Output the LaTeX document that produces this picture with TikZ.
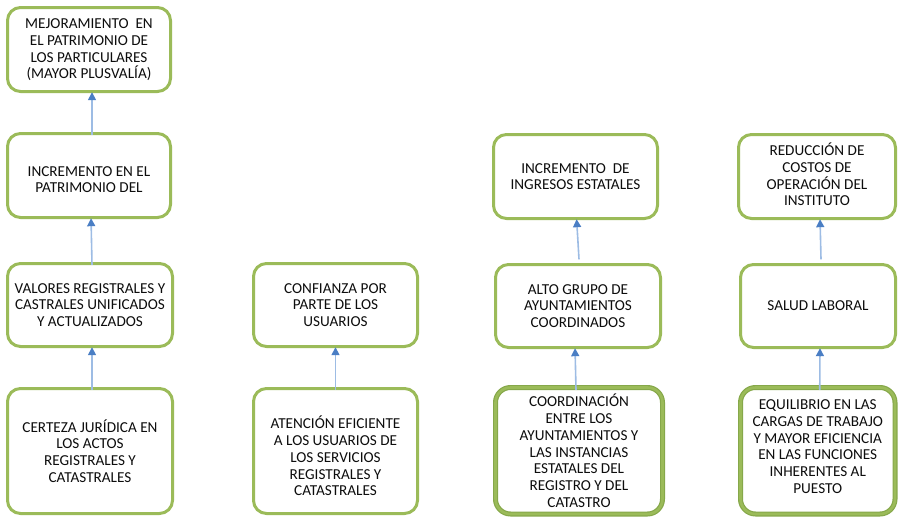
\documentclass[tikz,border=0pt]{standalone}
\usepackage{fontspec}
\setmainfont{Carlito}
\usetikzlibrary{arrows.meta,calc,fit}
\definecolor{boxgreen}{HTML}{9BBB59}
\definecolor{boxgreendark}{HTML}{86A84A}
\definecolor{linkblue}{HTML}{9DBCE4}
\definecolor{tipblue}{HTML}{4A7EC4}
\definecolor{txtcol}{HTML}{0D0D0D}
\tikzset{
  box/.style={draw=boxgreen, line width=3pt, rounded corners=13pt, fill=white},
  thickbox/.style={draw=boxgreendark, line width=5pt, rounded corners=15pt, fill=white,
    postaction={draw=boxgreen, line width=2.6pt}},
  txt/.style={align=center, text=txtcol, font=\fontsize{15.2}{16.7}\selectfont, inner sep=0pt},
  link/.style={draw=linkblue, line width=1.6pt, shorten >=2pt,
    -{Triangle[length=8pt,width=8pt,color=tipblue]}}
}
\newcommand{\mybox}[7]{%
  \path[#2] (#3,#4) rectangle (#5,#6);
  \coordinate (#1-nw) at (#3,#4);
  \coordinate (#1-se) at (#5,#6);
  \node[inner sep=0pt, fit=(#1-nw)(#1-se)] (#1) {};
}
\begin{document}
\begin{tikzpicture}[x=1pt,y=-1pt]
\useasboundingbox (0,0) rectangle (899,517);
% column 1
\mybox{A1}{box}{7.5}{7.5}{170.5}{91.5}{}
\mybox{A2}{box}{7.5}{133.5}{170.5}{217.5}{}
\mybox{A3}{box}{7.5}{263.5}{172.5}{346.5}{}
\mybox{A4}{box}{7.5}{388.5}{172.5}{513.5}{}
% column 2
\mybox{B3}{box}{253.5}{263.5}{417.5}{346.5}{}
\mybox{B4}{box}{253.5}{388.5}{417.5}{513.5}{}
% column 3
\mybox{C2}{box}{493.5}{134.5}{657.5}{218.5}{}
\mybox{C3}{box}{495.5}{264.5}{660.5}{347.5}{}
\mybox{C4}{thickbox}{495.5}{387.5}{662.5}{514}{}
% column 4
\mybox{D2}{box}{738.5}{134.5}{895.5}{218.5}{}
\mybox{D3}{box}{740.5}{264.5}{895.5}{347.5}{}
\mybox{D4}{thickbox}{740.5}{387.5}{895}{514}{}

\node[txt] (A1-t) at ([yshift=-0.5]A1.center) {MEJORAMIENTO~ EN\\EL PATRIMONIO DE\\LOS PARTICULARES\\(MAYOR PLUSVALÍA)};
\node[txt] (A2-t) at ([yshift=-4]A2.center) {INCREMENTO EN EL\\PATRIMONIO DEL};
\node[txt] (A3-t) at (A3.center) {VALORES REGISTRALES Y\\CASTRALES UNIFICADOS\\Y ACTUALIZADOS};
\node[txt] (A4-t) at (A4.center) {CERTEZA JURÍDICA EN\\LOS ACTOS\\REGISTRALES Y\\CATASTRALES};
\node[txt] (B3-t) at (B3.center) {CONFIANZA POR\\PARTE DE LOS\\USUARIOS};
\node[txt] (B4-t) at ([yshift=-5]B4.center) {ATENCIÓN EFICIENTE\\A LOS USUARIOS DE\\LOS SERVICIOS\\REGISTRALES Y\\CATASTRALES};
\node[txt] (C2-t) at (C2.center) {INCREMENTO~ DE\\INGRESOS ESTATALES};
\node[txt] (C3-t) at (C3.center) {ALTO GRUPO DE\\AYUNTAMIENTOS\\COORDINADOS};
\node[txt] (C4-t) at (C4.center) {COORDINACIÓN\\ENTRE LOS\\AYUNTAMIENTOS Y\\LAS INSTANCIAS\\ESTATALES DEL\\REGISTRO Y DEL\\CATASTRO};
\node[txt] (D2-t) at ([yshift=2]D2.center) {REDUCCIÓN DE\\COSTOS DE\\OPERACIÓN DEL\\INSTITUTO};
\node[txt] (D3-t) at (D3.center) {SALUD LABORAL};
\node[txt] (D4-t) at ([yshift=4]D4.center) {EQUILIBRIO EN LAS\\CARGAS DE TRABAJO\\Y MAYOR EFICIENCIA\\EN LAS FUNCIONES\\INHERENTES AL\\PUESTO};

% arrows
\draw[link] ([xshift=3,yshift=-1.5]A2.north) -- ([xshift=3,yshift=1.5]A1.south);
\draw[link] ([xshift=2,yshift=-1.5]A3.north) -- ([xshift=2,yshift=1.5]A2.south);
\draw[link] ([xshift=2,yshift=-1.5]A4.north) -- ([xshift=2,yshift=1.5]A3.south);
\draw[link] ([xshift=0,yshift=-1.5]B4.north) -- ([xshift=0,yshift=1.5]B3.south);
\draw[link] ([xshift=1,yshift=5]C3.north) -- ([xshift=1,yshift=1.5]C2.south);
\draw[link] ([xshift=-3,yshift=-2.5]C4.north) -- ([xshift=-3,yshift=1.5]C3.south);
\draw[link] ([xshift=3,yshift=5]D3.north) -- ([xshift=3,yshift=1.5]D2.south);
\draw[link] ([xshift=2,yshift=-2.5]D4.north) -- ([xshift=2,yshift=1.5]D3.south);
\end{tikzpicture}
\end{document}
